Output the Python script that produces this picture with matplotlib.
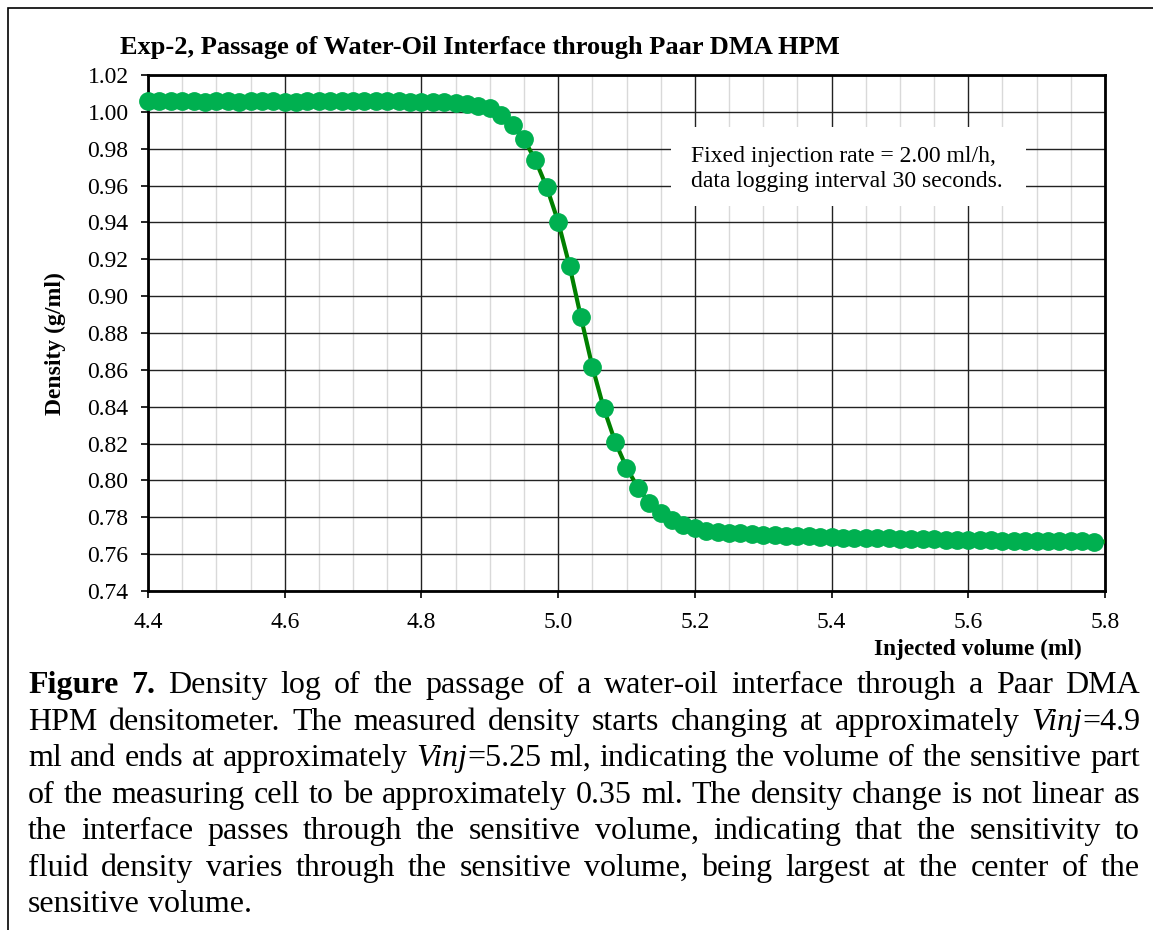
import re
import matplotlib
matplotlib.use("Agg")
import matplotlib.pyplot as plt
from matplotlib.patches import Rectangle
from matplotlib.ticker import MultipleLocator, FormatStrFormatter

plt.rcParams['font.family'] = ['Liberation Serif', 'DejaVu Serif']

W, H = 1153, 930

# injected volume (ml), one reading every 30 s at 2.00 ml/h
volume = [4.4000, 4.4167, 4.4333, 4.4500, 4.4667, 4.4833, 4.5000, 4.5167, 4.5333, 4.5500,
          4.5667, 4.5833, 4.6000, 4.6167, 4.6333, 4.6500, 4.6667, 4.6833, 4.7000, 4.7167,
          4.7333, 4.7500, 4.7667, 4.7833, 4.8000, 4.8167, 4.8333, 4.8500, 4.8667, 4.8833,
          4.9000, 4.9167, 4.9333, 4.9500, 4.9667, 4.9833, 5.0000, 5.0167, 5.0333, 5.0500,
          5.0667, 5.0833, 5.1000, 5.1167, 5.1333, 5.1500, 5.1667, 5.1833, 5.2000, 5.2167,
          5.2333, 5.2500, 5.2667, 5.2833, 5.3000, 5.3167, 5.3333, 5.3500, 5.3667, 5.3833,
          5.4000, 5.4167, 5.4333, 5.4500, 5.4667, 5.4833, 5.5000, 5.5167, 5.5333, 5.5500,
          5.5667, 5.5833, 5.6000, 5.6167, 5.6333, 5.6500, 5.6667, 5.6833, 5.7000, 5.7167,
          5.7333, 5.7500, 5.7667, 5.7833, 5.8000, 5.8167]

# density (g/ml)
density = [1.0057, 1.0058, 1.0058, 1.0057, 1.0057, 1.0056, 1.0057, 1.0057, 1.0056, 1.0057,
           1.0058, 1.0057, 1.0056, 1.0056, 1.0057, 1.0057, 1.0058, 1.0057, 1.0057, 1.0057,
           1.0058, 1.0057, 1.0057, 1.0056, 1.0056, 1.0055, 1.0052, 1.0048, 1.0043, 1.0032,
           1.0021, 0.9981, 0.9927, 0.9851, 0.9739, 0.9591, 0.9404, 0.9164, 0.8886, 0.8618,
           0.8392, 0.8211, 0.8070, 0.7961, 0.7880, 0.7822, 0.7786, 0.7758, 0.7740, 0.7728,
           0.7722, 0.7717, 0.7713, 0.7708, 0.7705, 0.7702, 0.7700, 0.7698, 0.7696, 0.7694,
           0.7692, 0.7690, 0.7689, 0.7687, 0.7686, 0.7685, 0.7684, 0.7683, 0.7681, 0.7680,
           0.7679, 0.7678, 0.7677, 0.7676, 0.7675, 0.7674, 0.7673, 0.7672, 0.7671, 0.7671,
           0.7670, 0.7670, 0.7669, 0.7668, 0.7668, 0.7668]

title = "Exp-2, Passage of Water-Oil Interface through Paar DMA HPM"
note_lines = ["Fixed injection rate = 2.00 ml/h,", "data logging interval 30 seconds."]
caption_lines = [
    "**Figure** **7.** Density log of the passage of a water-oil interface through a Paar DMA",
    "HPM densitometer. The measured density starts changing at approximately _Vinj_=4.9",
    "ml and ends at approximately _Vinj_=5.25 ml, indicating the volume of the sensitive part",
    "of the measuring cell to be approximately 0.35 ml. The density change is not linear as",
    "the interface passes through the sensitive volume, indicating that the sensitivity to",
    "fluid density varies through the sensitive volume, being largest at the center of the",
    "sensitive volume.",
]

fig = plt.figure(figsize=(W / 100, H / 100), dpi=100)

# outer frame of the figure box
fig.add_artist(Rectangle((8 / W, -0.5), 2, 1.5 - 8 / H, transform=fig.transFigure,
                         fill=False, edgecolor='black', lw=1.2))

ax = fig.add_axes([148 / W, 1 - 591 / H, 957 / W, 516 / H])
ax.set_xlim(4.4, 5.8)
ax.set_ylim(0.74, 1.02)

ax.xaxis.set_major_locator(MultipleLocator(0.2))
ax.xaxis.set_minor_locator(MultipleLocator(0.05))
ax.yaxis.set_major_locator(MultipleLocator(0.02))
ax.xaxis.set_major_formatter(FormatStrFormatter('%.1f'))
ax.yaxis.set_major_formatter(FormatStrFormatter('%.2f'))

ax.grid(which='major', axis='both', color='#222222', lw=1.0)
ax.grid(which='minor', axis='x', color='#d9d9d9', lw=1.0)
ax.set_axisbelow(True)
ax.tick_params(which='major', direction='out', length=5, width=1.2, labelsize=17)
ax.tick_params(axis='x', pad=10)
ax.tick_params(axis='y', pad=9)
ax.tick_params(which='minor', length=0)
for sp in ax.spines.values():
    sp.set_linewidth(2.0)

# line reaches the axis edge, markers only for logged points inside the range
ax.plot(volume, density, color='#008000', lw=3, zorder=3)
mk_v = [v for v in volume if v < 5.79]
mk_d = [d for v, d in zip(volume, density) if v < 5.79]
ax.plot(mk_v, mk_d, 'o', ms=12.5, color='#00b050', mec='#00b050', zorder=4, clip_on=False)

# note box
ax.add_patch(Rectangle((671 / W, 1 - 206 / H), 355 / W, 79 / H, transform=fig.transFigure,
                       facecolor='white', edgecolor='none', zorder=2.5))
fig.text(691 / W, 1 - 162 / H, note_lines[0], fontsize=17, va='baseline')
fig.text(691 / W, 1 - 187 / H, note_lines[1], fontsize=17, va='baseline')

fig.text(120 / W, 1 - 54 / H, title, fontsize=19, fontweight='bold', va='baseline')
fig.text(1082 / W, 1 - 655 / H, "Injected volume (ml)", fontsize=16.8, fontweight='bold',
         ha='right', va='baseline')
fig.text(55 / W, 1 - 344 / H, "Density (g/ml)", fontsize=17, fontweight='bold',
         rotation=90, ha='center', va='center')

# justified caption
cap_fs = 23
left, right = 28, 1140
fig.canvas.draw()
rend = fig.canvas.get_renderer()


def style_of(seg):
    if seg.startswith('**'):
        return seg[2:-2], {'fontweight': 'bold'}
    if seg.startswith('_'):
        return seg[1:-1], {'fontstyle': 'italic'}
    return seg, {}


def width_of(s, kw):
    t = fig.text(0, 0, s, fontsize=cap_fs, **kw)
    w = t.get_window_extent(rend).width
    t.remove()
    return w


space_w = width_of("a a", {}) - width_of("aa", {})
baseline = 693
for n, line in enumerate(caption_lines):
    words = []
    for word in line.split(' '):
        segs = []
        for seg in re.findall(r'\*\*[^*]+\*\*|_[^_]+_|[^*_]+', word):
            s, kw = style_of(seg)
            segs.append((s, kw, width_of(s, kw)))
        words.append(segs)
    total = sum(w for segs in words for _, _, w in segs)
    if n == len(caption_lines) - 1:
        gap = space_w
    else:
        gap = (right - left - total) / (len(words) - 1)
    x = left
    for segs in words:
        for s, kw, w in segs:
            fig.text(x / W, 1 - baseline / H, s, fontsize=cap_fs, va='baseline', **kw)
            x += w
        x += gap
    baseline += 36.5

fig.savefig("out.png", dpi=100)
